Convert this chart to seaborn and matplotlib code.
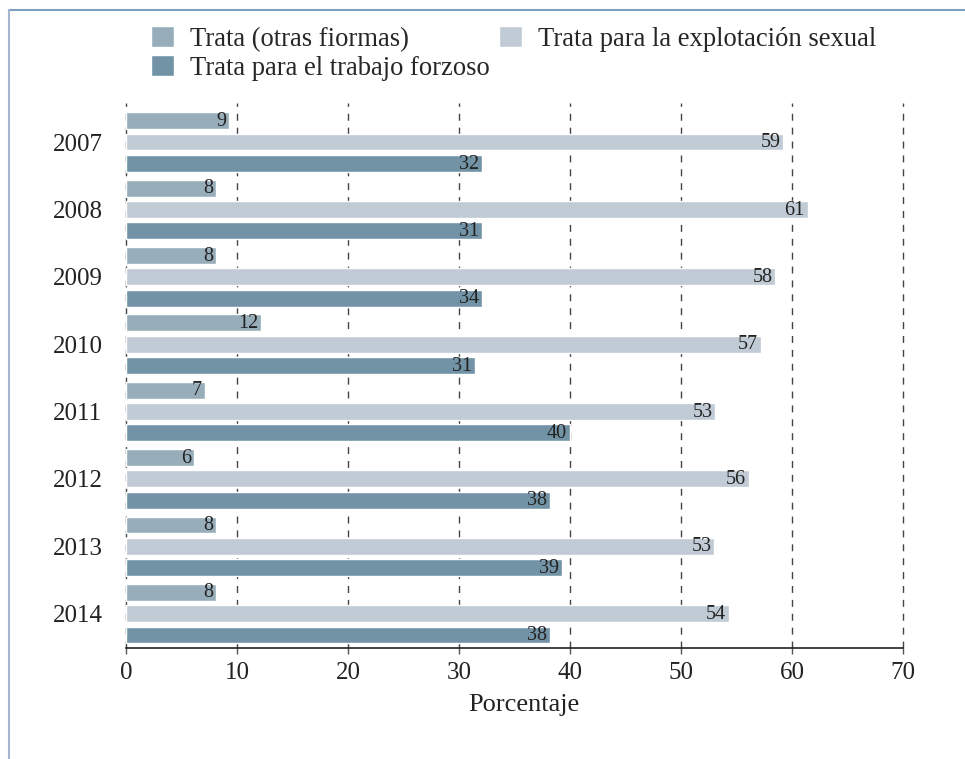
import pandas as pd
import numpy as np
import matplotlib
matplotlib.use('Agg')
import matplotlib.pyplot as plt
import seaborn as sns
from matplotlib.lines import Line2D

years = ['2007', '2008', '2009', '2010', '2011', '2012', '2013', '2014']
series = ['Trata (otras fiormas)', 'Trata para la explotación sexual', 'Trata para el trabajo forzoso']

# bar lengths as drawn, and the printed labels
otras = [9.3, 8.1, 8.1, 12.2, 7.1, 6.1, 8.1, 8.1]
sexual = [59.2, 61.4, 58.5, 57.2, 53.1, 56.1, 53.0, 54.3]
forzoso = [32.1, 32.1, 32.1, 31.4, 40.0, 38.2, 39.3, 38.2]
otras_lbl = [9, 8, 8, 12, 7, 6, 8, 8]
sexual_lbl = [59, 61, 58, 57, 53, 56, 53, 54]
forzoso_lbl = [32, 31, 34, 31, 40, 38, 39, 38]

colors = ['#97adba', '#c0cbd5', '#7293a6']

df = pd.DataFrame({
    'Año': years * 3,
    'Serie': [series[0]] * 8 + [series[1]] * 8 + [series[2]] * 8,
    'Porcentaje': otras + sexual + forzoso,
})

sns.set_style('white')
plt.rcParams['font.family'] = ['Liberation Serif', 'DejaVu Serif']

fig = plt.figure(figsize=(9.65, 7.59), dpi=100)
ax = fig.add_axes([126 / 965, 1 - 648 / 759, (903 - 126) / 965, (648 - 103) / 759])

sns.barplot(data=df, x='Porcentaje', y='Año', hue='Serie', orient='h',
            palette=colors, width=0.95, gap=0.21, dodge=True, ax=ax,
            saturation=1, zorder=3)

# value labels inside the right end of each bar
for cont, lbls in zip(ax.containers, [otras_lbl, sexual_lbl, forzoso_lbl]):
    for rect, v in zip(cont.patches, lbls):
        ax.text(rect.get_x() + rect.get_width() - 0.25,
                rect.get_y() + rect.get_height() / 2 + 0.01, str(v),
                ha='right', va='center', fontsize=14.5, color='#222222',
                zorder=4)

ax.set_xlim(0, 70)
ax.set_ylim(7.51, -0.58)
ax.set_xticks(range(0, 71, 10))
ax.xaxis.grid(True, linestyle=(0, (5, 5)), color='#444444', linewidth=1)
for gl in ax.get_xgridlines():
    gl.set_clip_on(False)
ax.set_axisbelow(True)
for s in ['top', 'right', 'left']:
    ax.spines[s].set_visible(False)
ax.spines['bottom'].set_color('#222222')
ax.spines['bottom'].set_linewidth(1.2)
ax.tick_params(axis='x', length=4, width=1, color='#555555', labelsize=18,
               labelcolor='#222222', pad=6, bottom=True)
ax.tick_params(axis='y', length=0, labelsize=18, labelcolor='#222222', pad=17)
ax.set_xlabel('Porcentaje', fontsize=19, color='#222222')
ax.xaxis.set_label_coords(0.5116, -0.085)
ax.set_ylabel('')

handles, lbls = ax.get_legend_handles_labels()
ax.get_legend().remove()
order = [0, 2, 1]
fig.legend([handles[i] for i in order], [lbls[i] for i in order],
           loc='upper left', bbox_to_anchor=(151 / 965, 1 - 26 / 759),
           ncol=2, frameon=False, fontsize=19.2, handlelength=0.85,
           handleheight=0.85, handletextpad=0.6, labelspacing=0.12,
           columnspacing=0.37, borderpad=0, borderaxespad=0)

# frame around the figure
fig.add_artist(Line2D([9 / 965, 1], [1 - 10 / 759, 1 - 10 / 759],
                      transform=fig.transFigure, color='#7d9fc0', linewidth=1.5))
fig.add_artist(Line2D([9 / 965, 9 / 965], [0, 1 - 10 / 759],
                      transform=fig.transFigure, color='#a3b8cf', linewidth=1.5))

fig.savefig('out.png', dpi=100)
